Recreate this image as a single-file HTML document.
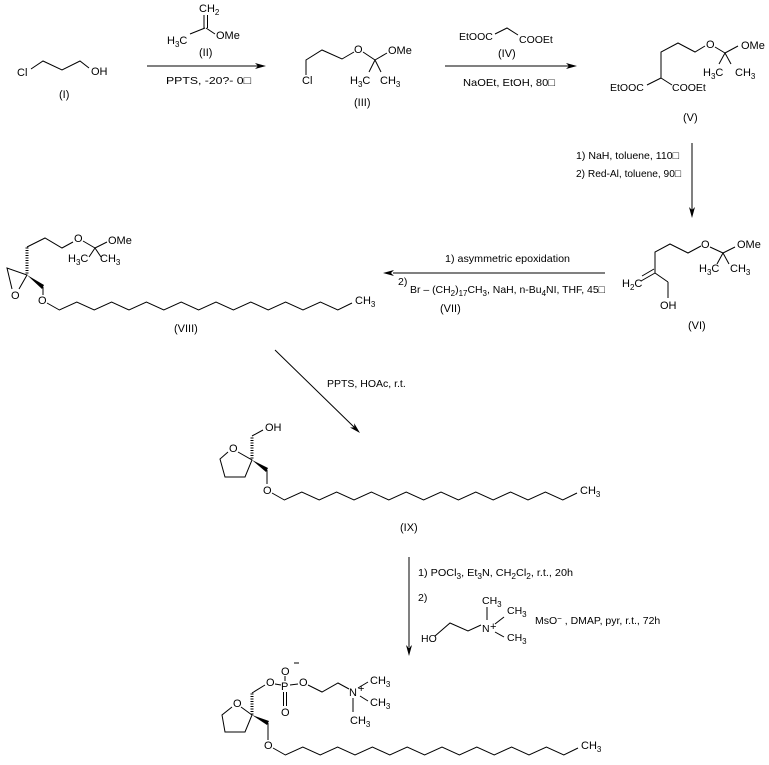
<!DOCTYPE html>
<html><head><meta charset="utf-8"><style>
html,body{margin:0;padding:0;background:#fff;}
svg{display:block;}
text{font-family:"Liberation Sans","DejaVu Sans",sans-serif;font-size:11px;fill:#000;}
.c{font-size:10.5px;}
line,polyline,path.s{stroke:#000;stroke-width:1;fill:none;}
polygon{fill:#000;stroke:none;}
</style></head><body>
<svg width="769" height="765" viewBox="0 0 769 765" xmlns="http://www.w3.org/2000/svg">
<rect width="769" height="765" fill="#fff"/>

<!-- (I) -->
<text x="17" y="76">Cl</text>
<polyline points="31,69 43,61 62,70 80,61 89,68"/>
<text x="91" y="75">OH</text>
<text x="59" y="98">(I)</text>

<!-- (II) -->
<text x="199" y="12">CH<tspan dy="3" font-size="8">2</tspan></text>
<line x1="204" y1="15" x2="204" y2="28"/><line x1="207.5" y1="15" x2="207.5" y2="28"/>
<line x1="190" y1="34" x2="205" y2="28"/>
<line x1="206" y1="28" x2="215" y2="34"/>
<text x="167" y="44">H<tspan dy="3" font-size="8">3</tspan><tspan dy="-3">C</tspan></text>
<text x="216" y="39">OMe</text>
<text x="199" y="56">(II)</text>

<!-- arrow 1 -->
<line x1="147" y1="66" x2="258" y2="66"/><polygon points="266,66 255,63 258,66 255,69"/>
<text class="c" x="166" y="84" textLength="85" lengthAdjust="spacingAndGlyphs">PPTS, -20?- 0□</text>

<!-- (III) -->
<text x="302" y="84">Cl</text>
<polyline points="306,75 306,60 322,50 342,59 354,52"/>
<text x="354" y="53">O</text>
<line x1="363" y1="52" x2="375" y2="60"/>
<line x1="375" y1="60" x2="387" y2="53"/>
<text x="388" y="54">OMe</text>
<line x1="375" y1="60" x2="369" y2="72"/>
<line x1="375" y1="60" x2="381" y2="72"/>
<text x="350" y="84">H<tspan dy="3" font-size="8">3</tspan><tspan dy="-3">C</tspan></text>
<text x="380" y="84">CH<tspan dy="3" font-size="8">3</tspan></text>
<text x="354" y="106">(III)</text>

<!-- arrow 2 -->
<line x1="445" y1="66" x2="569" y2="66"/><polygon points="577,66 566,63 569,66 566,69"/>
<text class="c" x="459" y="40">EtOOC</text>
<polyline points="495,34 507,28 518,35"/>
<text class="c" x="519" y="43">COOEt</text>
<text x="498" y="57">(IV)</text>
<text class="c" x="463" y="86" textLength="92" lengthAdjust="spacingAndGlyphs">NaOEt, EtOH, 80□</text>

<!-- (V) -->
<polyline points="661,78 661,52 678,43 695,52 705,46"/>
<text x="706" y="48">O</text>
<line x1="715" y1="47" x2="725" y2="53"/>
<line x1="725" y1="53" x2="738" y2="46"/>
<text x="741" y="49">OMe</text>
<line x1="725" y1="53" x2="719" y2="64"/><line x1="725" y1="53" x2="731" y2="64"/>
<text x="703" y="76">H<tspan dy="3" font-size="8">3</tspan><tspan dy="-3">C</tspan></text>
<text x="735" y="76">CH<tspan dy="3" font-size="8">3</tspan></text>
<line x1="661" y1="78" x2="647" y2="85"/><text class="c" x="610" y="91">EtOOC</text>
<line x1="661" y1="78" x2="672" y2="85"/><text class="c" x="672" y="91">COOEt</text>
<text x="683" y="121">(V)</text>

<!-- vertical arrow 1 -->
<line x1="692" y1="143" x2="692" y2="210"/><polygon points="692,218 689,207 692,210 695,207"/>
<text class="c" x="576" y="159" textLength="103" lengthAdjust="spacingAndGlyphs">1) NaH, toluene, 110□</text>
<text class="c" x="576" y="177" textLength="105" lengthAdjust="spacingAndGlyphs">2) Red-Al, toluene, 90□</text>

<!-- (VI) -->
<polyline points="655,273 655,252 670,244 688,253 701,246"/>
<text x="701" y="248">O</text>
<line x1="710" y1="247" x2="723" y2="253"/>
<line x1="723" y1="253" x2="735" y2="247"/>
<text x="737" y="248">OMe</text>
<line x1="723" y1="253" x2="717" y2="264"/><line x1="723" y1="253" x2="729" y2="264"/>
<text x="699" y="272">H<tspan dy="3" font-size="8">3</tspan><tspan dy="-3">C</tspan></text>
<text x="730" y="272">CH<tspan dy="3" font-size="8">3</tspan></text>
<line x1="655" y1="273" x2="641" y2="281"/><line x1="654" y1="269" x2="642" y2="276"/>
<text x="622" y="287">H<tspan dy="3" font-size="8">2</tspan><tspan dy="-3">C</tspan></text>
<line x1="655" y1="273" x2="668" y2="282"/><line x1="668" y1="282" x2="668" y2="298"/>
<text x="660" y="309">OH</text>
<text x="688" y="329">(VI)</text>

<!-- arrow to VIII -->
<line x1="393" y1="273" x2="605" y2="273"/><polygon points="383,273 394,270 391,273 394,276"/>
<text class="c" x="445" y="262" textLength="125" lengthAdjust="spacingAndGlyphs">1) asymmetric epoxidation</text>
<text class="c" x="398" y="285">2)</text>
<text class="c" x="410" y="293" textLength="195" lengthAdjust="spacingAndGlyphs">Br – (CH<tspan font-size="8" dy="3">2</tspan><tspan dy="-3">)</tspan><tspan font-size="8" dy="3">17</tspan><tspan dy="-3">CH</tspan><tspan font-size="8" dy="3">3</tspan><tspan dy="-3">, NaH, n-Bu</tspan><tspan font-size="8" dy="3">4</tspan><tspan dy="-3">NI, THF, 45□</tspan></text>
<text x="440" y="312">(VII)</text>

<!-- (VIII) -->
<path class="s" d="M25.5 248h3M25.5 250.5h3M25.5 253h3M25.5 255.5h3M25.5 258h3M25.5 260.5h3M25.5 263h3M25.5 265.5h3M25.5 268h3M25.5 270.5h3M25.5 273h3"/>
<polyline points="27,247 45,238 62,248 73,242"/>
<text x="74" y="242">O</text>
<line x1="83" y1="241" x2="95" y2="248"/>
<line x1="95" y1="248" x2="107" y2="242"/>
<text x="108" y="244">OMe</text>
<line x1="95" y1="248" x2="89" y2="257"/><line x1="95" y1="248" x2="101" y2="257"/>
<text x="68" y="262">H<tspan dy="3" font-size="8">3</tspan><tspan dy="-3">C</tspan></text>
<text x="100" y="262">CH<tspan dy="3" font-size="8">3</tspan></text>
<polyline points="12,289 7,268 27,275 19,289"/>
<text x="11" y="299">O</text>
<polygon points="27,275 44,285 42,289"/>
<line x1="43" y1="287" x2="43" y2="295"/>
<text x="38" y="304">O</text>
<polyline transform="translate(42,300)" points="5,3 17.4,10 34.8,2 52.2,10 69.6,2 87,10 104.4,2 121.8,10 139.2,2 156.6,10 174,2 191.4,10 208.8,2 226.2,10 243.6,2 261,10 278.4,2 295.8,10 310,3"/>
<text x="355" y="304">CH<tspan dy="3" font-size="8">3</tspan></text>
<text x="174" y="332">(VIII)</text>

<!-- diagonal arrow -->
<line x1="275" y1="350" x2="355" y2="428"/>
<polygon points="360,433 350,427.5 354.3,427.4 354.2,423.2"/>
<text class="c" x="327" y="387">PPTS, HOAc, r.t.</text>

<!-- (IX) -->
<text x="229" y="452">O</text>
<polyline points="228,452 220,459 225,477 245,477 252,460 238,452"/>
<path class="s" d="M250.5 438h3M250.5 440.5h3M250.5 443h3M250.5 445.5h3M250.5 448h3M250.5 450.5h3M250.5 453h3M250.5 455.5h3M250.5 458h3"/>
<line x1="252" y1="436" x2="263" y2="430"/>
<text x="265" y="431">OH</text>
<polygon points="252,460 268,468 266,472"/>
<line x1="267" y1="470" x2="267" y2="484"/>
<text x="263" y="494">O</text>
<polyline transform="translate(267,490)" points="5,3 17.4,10 34.8,2 52.2,10 69.6,2 87,10 104.4,2 121.8,10 139.2,2 156.6,10 174,2 191.4,10 208.8,2 226.2,10 243.6,2 261,10 278.4,2 295.8,10 310,3"/>
<text x="580" y="494">CH<tspan dy="3" font-size="8">3</tspan></text>
<text x="400" y="531">(IX)</text>

<!-- vertical arrow 3 -->
<line x1="409" y1="557" x2="409" y2="647"/><polygon points="409,656 406,645 409,648 412,645"/>
<text class="c" x="418" y="576" textLength="155" lengthAdjust="spacingAndGlyphs">1) POCl<tspan font-size="8" dy="3">3</tspan><tspan dy="-3">, Et</tspan><tspan font-size="8" dy="3">3</tspan><tspan dy="-3">N, CH</tspan><tspan font-size="8" dy="3">2</tspan><tspan dy="-3">Cl</tspan><tspan font-size="8" dy="3">2</tspan><tspan dy="-3">, r.t., 20h</tspan></text>
<text class="c" x="418" y="601">2)</text>
<text class="c" x="482" y="604">CH<tspan dy="3" font-size="8">3</tspan></text>
<line x1="487" y1="607" x2="487" y2="620"/>
<text class="c" x="482" y="632">N</text><text x="490" y="630" font-size="10">+</text>
<line x1="495" y1="624" x2="504" y2="617"/>
<text class="c" x="507" y="614">CH<tspan dy="3" font-size="8">3</tspan></text>
<line x1="495" y1="632" x2="504" y2="637"/>
<text class="c" x="507" y="641">CH<tspan dy="3" font-size="8">3</tspan></text>
<polyline points="435,636 450,623 468,631 481,625"/>
<text class="c" x="421" y="642">HO</text>
<text class="c" x="535" y="624">MsO<tspan dy="-3" font-size="8">−</tspan><tspan dy="3"> , DMAP, pyr, r.t., 72h</tspan></text>

<!-- final product -->
<text x="233" y="707">O</text>
<polyline points="232,707 222,715 225,732 245,732 252,715 241,707"/>
<path class="s" d="M250.5 694h3M250.5 696.5h3M250.5 699h3M250.5 701.5h3M250.5 704h3M250.5 706.5h3M250.5 709h3M250.5 711.5h3M250.5 714h3"/>
<line x1="252" y1="693" x2="265" y2="685"/>
<text x="266" y="686">O</text>
<line x1="275" y1="684" x2="281" y2="685"/>
<text x="281" y="690">P</text>
<text x="281" y="675">O</text>
<line x1="294" y1="663" x2="299" y2="663"/>
<line x1="285" y1="676" x2="285" y2="681"/>
<line x1="283.5" y1="692" x2="283.5" y2="706"/><line x1="286.5" y1="692" x2="286.5" y2="706"/>
<text x="281" y="716">O</text>
<line x1="290" y1="685" x2="298" y2="684"/>
<text x="299" y="686">O</text>
<polyline points="308,685 322,692 338,683 349,689"/>
<text x="349" y="696">N</text><text x="358" y="692" font-size="10">+</text>
<line x1="358" y1="688" x2="368" y2="682"/><text x="370" y="684">CH<tspan dy="3" font-size="8">3</tspan></text>
<line x1="360" y1="696" x2="368" y2="701"/><text x="370" y="706">CH<tspan dy="3" font-size="8">3</tspan></text>
<line x1="353" y1="698" x2="353" y2="712"/><text x="350" y="724">CH<tspan dy="3" font-size="8">3</tspan></text>
<polygon points="252,715 269,721 267,725"/>
<line x1="268" y1="723" x2="268" y2="740"/>
<text x="264" y="749">O</text>
<polyline transform="translate(268,745)" points="5,3 17.4,10 34.8,2 52.2,10 69.6,2 87,10 104.4,2 121.8,10 139.2,2 156.6,10 174,2 191.4,10 208.8,2 226.2,10 243.6,2 261,10 278.4,2 295.8,10 310,3"/>
<text x="581" y="749">CH<tspan dy="3" font-size="8">3</tspan></text>
</svg>
</body></html>
